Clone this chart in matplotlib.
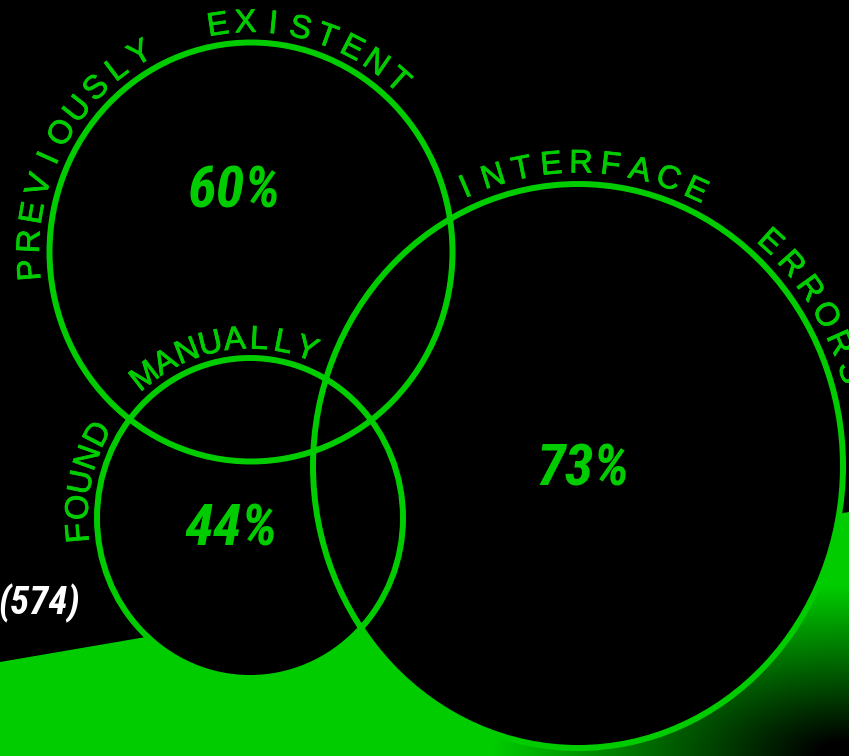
import numpy as np
import matplotlib
matplotlib.use('Agg')
import matplotlib.pyplot as plt
import matplotlib.patheffects as pe
from matplotlib.patches import Ellipse, Polygon

GREEN = '#00cc00'

# data
set_labels = ['PREVIOUSLY  EXISTENT', 'FOUND  MANUALLY', 'INTERFACE  ERRORS']
percents = [60, 44, 73]
total = 574

# circle layout in pixels: centre x, centre y, half width, half height
circles = [(251, 252, 201.5, 209.5), (250, 518, 153, 160), (578, 466, 265, 282)]
# arc text: start angle, step per character (deg), radial offset
arc_opts = [(184.5, 7.16, 19), (184.8, 8.15, 18), (113.2, 5.95, 20)]
pct_pos = [(234, 192), (231, 530), (583, 470)]

W, H = 849, 756
fig = plt.figure(figsize=(W / 100, H / 100), dpi=100)
fig.patch.set_facecolor('black')
ax = fig.add_axes([0, 0, 1, 1])
ax.set_xlim(0, W)
ax.set_ylim(H, 0)
ax.set_facecolor('black')
ax.axis('off')

# green floor, fading out towards the lower right corner
yy, xx = np.mgrid[0:H, 0:W]
d = np.hypot((W - xx) / 2.1, H - yy)
v = np.clip((d - 15) / 155.0, 0, 1)
img = np.zeros((H, W, 3))
img[..., 1] = 0.8 * v
floor = Polygon([(0, 662), (140, 638), (W, 512), (W, H), (0, H)], closed=True,
                facecolor='none', edgecolor='none')
ax.add_patch(floor)
im = ax.imshow(img, extent=(0, W, H, 0), origin='upper', aspect='auto', zorder=1)
im.set_clip_path(floor)

for cx, cy, rx, ry in circles:
    ax.add_patch(Ellipse((cx, cy), 2 * rx, 2 * ry, facecolor='black', edgecolor='none', zorder=2))
for cx, cy, rx, ry in circles:
    ax.add_patch(Ellipse((cx, cy), 2 * rx, 2 * ry, facecolor='none', edgecolor=GREEN,
                         linewidth=4.3, zorder=3))

thick = [pe.withStroke(linewidth=0.6, foreground=GREEN)]


def arc_text(s, circ, opts):
    cx, cy, rx, ry = circ
    start, step, off = opts
    for i, ch in enumerate(s):
        if ch == ' ':
            continue
        th = np.radians(start - i * step)
        x = cx + (rx + off) * np.cos(th)
        y = cy - (ry + off) * np.sin(th)
        ax.text(x, y, ch, rotation=np.degrees(th) - 90, rotation_mode='anchor',
                ha='center', va='center', color=GREEN, fontsize=23.5,
                family=['Liberation Sans', 'DejaVu Sans'], path_effects=thick, zorder=4)


for lab, circ, opts in zip(set_labels, circles, arc_opts):
    arc_text(lab, circ, opts)

pfont = ['Liberation Sans Narrow', 'Roboto Condensed', 'Archivo Narrow', 'Liberation Sans']
for p, (x, y) in zip(percents, pct_pos):
    ax.text(x, y, '%d%%' % p, ha='center', va='center', color=GREEN, fontsize=42,
            fontweight='bold', style='italic', family=pfont, zorder=4)

ax.text(80, 603, '(%d)' % total, ha='right', va='center', color='white', fontsize=28,
        fontweight='bold', style='italic', family=pfont, zorder=4)

fig.savefig('out.png', dpi=100, facecolor='black')
